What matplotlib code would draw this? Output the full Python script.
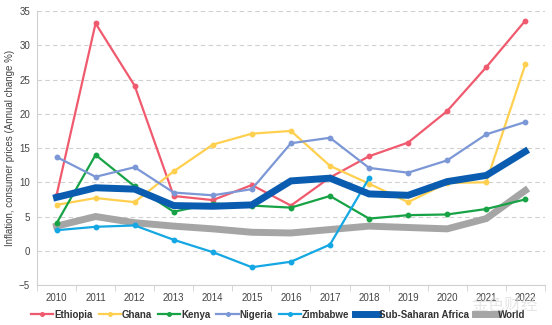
import numpy as np
import matplotlib.pyplot as plt

years = ['2010', '2011', '2012', '2013', '2014', '2015', '2016',
         '2017', '2018', '2019', '2020', '2021', '2022']

ethiopia = [8.1, 33.2, 24.1, 8.0, 7.4, 9.6, 6.6, 10.7, 13.8, 15.8, 20.4, 26.8, 33.6]
ghana = [6.7, 7.7, 7.1, 11.6, 15.5, 17.1, 17.5, 12.4, 9.8, 7.1, 9.9, 10.0, 27.2]
kenya = [4.0, 14.0, 9.4, 5.7, 6.9, 6.6, 6.3, 8.0, 4.7, 5.2, 5.3, 6.1, 7.5]
nigeria = [13.7, 10.8, 12.2, 8.5, 8.1, 9.0, 15.7, 16.5, 12.1, 11.4, 13.2, 17.0, 18.8]
zimbabwe = [3.0, 3.5, 3.7, 1.6, -0.2, -2.4, -1.6, 0.9, 10.6]
ssa = [7.8, 9.2, 9.0, 6.6, 6.5, 6.7, 10.2, 10.6, 8.3, 8.1, 10.1, 11.0, 14.5]
world = [3.6, 5.0, 4.1, 3.6, 3.2, 2.7, 2.6, 3.1, 3.6, 3.4, 3.2, 4.7, 8.8]

plt.rcParams['font.family'] = ['Liberation Sans', 'DejaVu Sans']

fig = plt.figure(figsize=(5.52, 3.25), dpi=100)
ax = fig.add_axes([0.067, 0.123, 0.92, 0.843])

x = np.arange(len(years))
ax.plot(x, ethiopia, color='#f05a6e', lw=1.6, marker='o', ms=3.2, label='Ethiopia', zorder=3)
ax.plot(x, ghana, color='#ffd04f', lw=1.6, marker='o', ms=3.2, label='Ghana', zorder=3)
ax.plot(x, kenya, color='#17a345', lw=1.6, marker='o', ms=3.2, label='Kenya', zorder=3)
ax.plot(x, nigeria, color='#7c97d6', lw=1.6, marker='o', ms=3.2, label='Nigeria', zorder=3)
ax.plot(x[:len(zimbabwe)], zimbabwe, color='#14a7e3', lw=1.6, marker='o', ms=3.2,
        label='Zimbabwe', zorder=3)
ax.plot(x, ssa, color='#0a5cb0', lw=5, label='Sub-Saharan Africa', zorder=4,
        solid_joinstyle='miter')
ax.plot(x, world, color='#a5a5a5', lw=5, label='World', zorder=2,
        solid_joinstyle='miter')

ax.set_xlim(-0.5, len(years) - 0.5)
ax.set_ylim(-5, 35)
ax.set_yticks(range(-5, 36, 5))
ax.set_xticks(x)
ax.set_xticklabels(years)
ax.set_xticks(np.arange(-0.5, len(years), 1), minor=True)
ax.tick_params(axis='x', which='major', length=0, labelsize=7, colors='#444444', pad=6)
ax.tick_params(axis='x', which='minor', length=4, color='#d0d0d0')
ax.tick_params(axis='y', length=0, labelsize=7, colors='#444444', pad=5)

ax.grid(axis='y', color='#d0d0d0', linestyle=(0, (4, 3)), linewidth=0.8)
ax.set_axisbelow(True)
for s in ['top', 'right']:
    ax.spines[s].set_visible(False)
ax.spines['left'].set_color('#d0d0d0')
ax.spines['bottom'].set_color('#d0d0d0')

ax.set_ylabel('Inflation, consumer prices (Annual change %)', fontsize=7,
              color='#444444', labelpad=3)

leg = ax.legend(loc='center', bbox_to_anchor=(0.475, -0.108), ncol=7, frameon=False,
                prop={'size': 7, 'weight': 'bold'}, handlelength=2.3, handletextpad=0.1,
                columnspacing=0.6, markerscale=0.8, borderpad=0, borderaxespad=0)
for t in leg.get_texts():
    t.set_color('#333333')

fig.text(0.915, 0.06, '金色财经', fontsize=12, color='#dcdcdc', alpha=0.7,
         family=['Noto Sans CJK SC', 'DejaVu Sans'], ha='center', va='center', zorder=0)

fig.savefig('out.png', dpi=100)
